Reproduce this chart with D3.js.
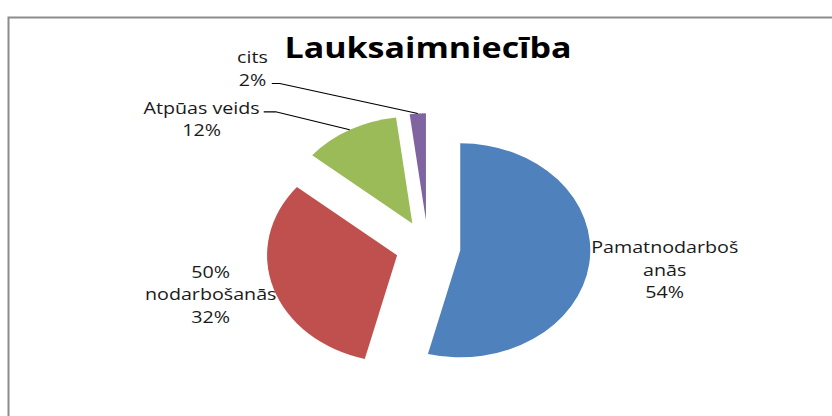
<!DOCTYPE html>
<html>
<head>
<meta charset="utf-8">
<script src="https://cdn.jsdelivr.net/npm/d3@7"></script>
<style>
    body { margin: 0; background: #fff; }
    text { font-family: "Open Sans", Lato, sans-serif; fill: #1a1a1a; }
</style>
</head>
<body>
<div class="container"></div>
<script>
var categories = ["Pamatnodarbošanās", "50% nodarbošanās", "Atpūas veids", "cits"];
var shares = [54, 32, 12, 2];
// category names as they wrap in the labels
var labelLines = [["Pamatnodarboš", "anās"], ["50%", "nodarbošanās"], ["Atpūas veids"], ["cits"]];
var sliceColors = ["#4F81BD", "#C0504D", "#9BBB59", "#8064A2"];
var chartTitle = "Lauksaimniecība";

const WIDTH = 832;
const HEIGHT = 416;
const SX = 1.215;          // the picture is stretched sideways
const R = 107;
const EXPLODE = 0.25;
const CX = 428 / SX;
const CY = 247;
const LINE_H = 22.5;
const FONT = 16.2;

var svg = d3.select('.container').append('svg')
    .attr('width', WIDTH)
    .attr('height', HEIGHT);

// chart area frame (only left and top show)
svg.append('path')
    .attr('d', 'M8.5,' + HEIGHT + ' V17.5 H' + WIDTH)
    .attr('fill', 'none')
    .attr('stroke', '#8c8c8c')
    .attr('stroke-width', 2);

var g = svg.append('g').attr('transform', 'scale(' + SX + ',1)');

g.append('text')
    .attr('x', CX)
    .attr('y', 58)
    .attr('text-anchor', 'middle')
    .style('font-size', '28px')
    .style('font-weight', 'bold')
    .style('fill', '#000')
    .text(chartTitle);

var pie = d3.pie().sort(null).value(function (d) { return d; });
var arc = d3.arc().innerRadius(0).outerRadius(R);
var slices = pie(shares);

slices.forEach(function (s) {
    var mid = (s.startAngle + s.endAngle) / 2;
    s.apex = [CX + EXPLODE * R * Math.sin(mid), CY - EXPLODE * R * Math.cos(mid)];
    s.outer = [s.apex[0] + R * Math.sin(mid), s.apex[1] - R * Math.cos(mid)];
});

g.selectAll('path.slice')
    .data(slices)
    .enter().append('path')
    .attr('class', 'slice')
    .attr('transform', function (s) { return 'translate(' + s.apex[0] + ',' + s.apex[1] + ')'; })
    .attr('d', arc)
    .attr('fill', function (s, i) { return sliceColors[i]; });

// how each label sits: beside the slice, or pulled away with a leader line
var labelMode = ['right', 'left', 'callout', 'callout'];
var callout = {
    2: { start: [-86, -18], elbow: [-74, -18], row: 0 },
    3: { start: [-146, -30], elbow: [-138, -30], row: 1 }
};

slices.forEach(function (s, i) {
    var lines = labelLines[i].concat([shares[i] + '%']);
    var t = g.append('text')
        .attr('text-anchor', 'middle')
        .style('font-size', FONT + 'px');
    var spans = lines.map(function (l) { return t.append('tspan').text(l); });
    var maxW = d3.max(spans, function (sp) { return sp.node().getComputedTextLength(); });
    var x, y0;
    if (labelMode[i] === 'right') {
        x = s.outer[0] + 2 / SX + maxW / 2;
        y0 = s.outer[1] + 12 - (lines.length - 1) / 2 * LINE_H;
    } else if (labelMode[i] === 'left') {
        x = s.outer[0] + 3 / SX - maxW / 2;
        y0 = s.outer[1] + 12 - (lines.length - 1) / 2 * LINE_H;
    } else {
        var c = callout[i];
        var start = [s.outer[0] + c.start[0] / SX, s.outer[1] + c.start[1]];
        var elbow = [s.outer[0] + c.elbow[0] / SX, s.outer[1] + c.elbow[1]];
        g.append('path')
            .attr('d', d3.line()([start, elbow, s.outer]))
            .attr('fill', 'none')
            .attr('stroke', '#000')
            .attr('stroke-width', 1.2);
        x = start[0] - 4 / SX - maxW / 2;
        y0 = start[1] + 2 - c.row * LINE_H;
    }
    spans.forEach(function (sp, k) {
        sp.attr('x', x).attr('y', y0 + k * LINE_H);
    });
});
</script>
</body>
</html>
